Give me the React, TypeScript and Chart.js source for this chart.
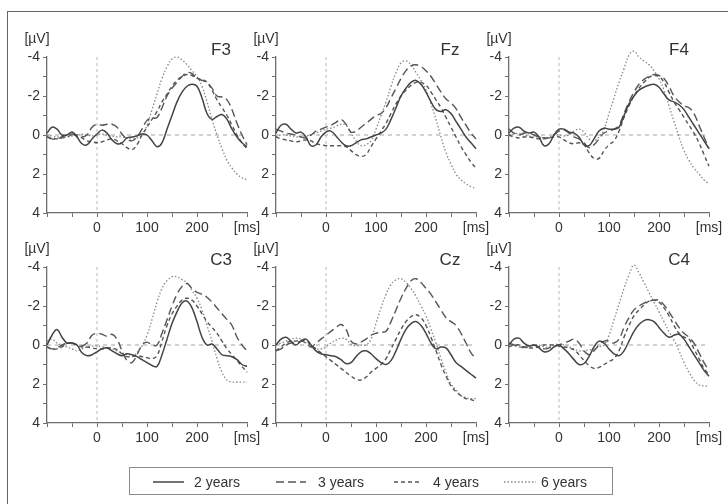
import React, { useEffect, useRef } from 'react';
import { Chart, registerables } from 'chart.js';

Chart.register(...registerables);

// ---------- DATA ----------
const TIMES_MS = [-100, -90, -80, -70, -60, -50, -40, -30, -20, -10, 0, 10, 20, 30, 40, 50, 60, 70, 80, 90, 100, 110, 120, 130, 140, 150, 160, 170, 180, 190, 200, 210, 220, 230, 240, 250, 260, 270, 280, 290, 300];
const X_LABELED_TICKS = [0, 100, 200];
const X_UNIT = '[ms]';
const Y_UNIT = '[µV]';
const Y_LABELED_TICKS = [-4, -2, 0, 2, 4];
const GROUPS = ['2 years', '3 years', '4 years', '6 years'];
const ELECTRODES = ['F3', 'Fz', 'F4', 'C3', 'Cz', 'C4'];

const F3_2y = [-0.1, -0.4, -0.3, 0.0, 0.0, -0.15, 0.1, 0.45, 0.5, 0.2, -0.05, -0.25, -0.1, 0.25, 0.45, 0.4, 0.15, 0.1, 0.05, -0.05, 0.0, 0.3, 0.6, 0.4, -0.3, -1.0, -1.7, -2.2, -2.5, -2.6, -2.5, -1.9, -1.1, -0.8, -0.95, -1.05, -0.8, -0.3, 0.1, 0.4, 0.6];
const F3_3y = [0.1, 0.2, 0.2, 0.1, 0.0, -0.05, 0.0, 0.1, 0.0, -0.4, -0.55, -0.5, -0.55, -0.55, -0.4, -0.05, 0.2, 0.3, 0.1, -0.3, -0.75, -0.85, -0.9, -1.4, -2.0, -2.4, -2.7, -3.0, -3.2, -3.15, -2.9, -2.8, -2.7, -2.4, -2.0, -1.95, -1.8, -1.3, -0.6, 0.0, 0.5];
const F3_4y = [0.1, 0.15, 0.2, 0.15, 0.1, 0.0, 0.05, 0.15, 0.3, 0.35, 0.4, 0.35, 0.25, 0.2, 0.3, 0.45, 0.65, 0.75, 0.5, 0.0, -0.4, -0.8, -1.2, -1.7, -2.1, -2.5, -2.8, -3.0, -3.1, -3.05, -2.9, -2.85, -2.7, -2.3, -1.8, -1.4, -1.0, -0.5, 0.0, 0.4, 0.7];
const F3_6y = [0.0, 0.05, 0.1, 0.1, 0.1, 0.05, 0.0, -0.05, 0.0, 0.05, 0.0, -0.05, 0.0, 0.05, 0.1, 0.1, 0.15, 0.2, 0.15, 0.0, -0.5, -1.3, -2.1, -2.9, -3.5, -3.9, -4.0, -3.85, -3.6, -3.3, -3.0, -2.5, -1.7, -0.8, 0.0, 0.7, 1.3, 1.7, 2.0, 2.2, 2.3];

const Fz_2y = [-0.1, -0.5, -0.55, -0.3, -0.1, -0.15, 0.1, 0.55, 0.5, 0.1, -0.15, -0.2, 0.05, 0.35, 0.55, 0.55, 0.4, 0.25, 0.2, 0.1, 0.0, -0.1, -0.3, -0.8, -1.4, -2.0, -2.4, -2.7, -2.8, -2.6, -2.2, -1.7, -1.3, -1.2, -1.3, -1.1, -0.7, -0.3, 0.1, 0.4, 0.7];
const Fz_3y = [-0.3, -0.2, -0.1, -0.05, 0.0, 0.1, 0.15, 0.0, -0.2, -0.3, -0.4, -0.5, -0.65, -0.8, -0.55, -0.15, -0.2, -0.4, -0.6, -0.8, -1.0, -1.1, -1.4, -1.9, -2.4, -2.9, -3.3, -3.55, -3.6, -3.5, -3.3, -3.0, -2.6, -2.2, -1.85, -1.65, -1.35, -0.9, -0.5, -0.1, 0.2];
const Fz_4y = [0.1, 0.2, 0.25, 0.3, 0.35, 0.3, 0.25, 0.3, 0.45, 0.5, 0.55, 0.55, 0.55, 0.55, 0.6, 0.8, 1.0, 1.1, 1.0, 0.6, 0.2, -0.2, -0.6, -1.1, -1.6, -2.0, -2.3, -2.55, -2.7, -2.7, -2.55, -2.2, -1.8, -1.4, -0.9, -0.4, 0.1, 0.6, 1.0, 1.4, 1.7];
const Fz_6y = [0.1, 0.0, 0.0, 0.05, 0.1, 0.1, 0.05, 0.0, -0.1, -0.2, -0.3, -0.35, -0.45, -0.55, -0.5, -0.1, 0.3, 0.55, 0.5, 0.3, -0.3, -1.0, -1.7, -2.5, -3.2, -3.7, -3.8, -3.6, -3.2, -2.8, -2.3, -1.6, -0.8, 0.1, 0.9, 1.5, 2.0, 2.3, 2.5, 2.65, 2.75];

const F4_2y = [-0.1, -0.35, -0.4, -0.2, -0.1, -0.15, 0.1, 0.55, 0.45, 0.0, -0.3, -0.3, -0.15, -0.1, 0.1, 0.5, 0.55, 0.2, -0.2, -0.35, -0.3, -0.3, -0.4, -1.0, -1.6, -2.0, -2.3, -2.45, -2.55, -2.6, -2.45, -2.1, -1.8, -1.7, -1.55, -1.3, -0.9, -0.5, -0.1, 0.3, 0.7];
const F4_3y = [-0.3, -0.1, 0.0, -0.1, -0.1, 0.0, 0.1, 0.15, 0.15, 0.0, -0.2, -0.25, -0.1, 0.1, 0.2, 0.4, 0.65, 0.5, 0.2, -0.1, -0.2, -0.3, -0.5, -1.1, -1.7, -2.2, -2.6, -2.85, -3.0, -3.1, -3.05, -2.9, -2.5, -2.0, -1.7, -1.5, -1.4, -1.1, -0.5, 0.1, 0.7];
const F4_4y = [0.0, 0.1, 0.15, 0.1, 0.1, 0.15, 0.2, 0.2, 0.15, 0.1, 0.1, 0.25, 0.4, 0.45, 0.4, 0.5, 0.9, 1.2, 1.2, 0.8, 0.5, 0.3, -0.2, -0.9, -1.5, -2.0, -2.4, -2.7, -2.95, -3.05, -3.0, -2.7, -2.2, -1.7, -1.3, -0.9, -0.5, -0.1, 0.4, 1.0, 1.6];
const F4_6y = [0.0, -0.05, -0.1, 0.0, 0.05, 0.1, 0.1, 0.15, 0.1, 0.0, 0.0, 0.05, 0.0, -0.2, -0.3, -0.15, 0.2, 0.3, 0.1, -0.3, -1.1, -1.9, -2.7, -3.4, -4.1, -4.3, -4.0, -3.8, -3.6, -3.3, -2.9, -2.3, -1.5, -0.7, 0.1, 0.8, 1.3, 1.7, 2.0, 2.3, 2.5];

const C3_2y = [0.0, -0.5, -0.8, -0.4, -0.1, -0.1, 0.0, 0.4, 0.55, 0.5, 0.35, 0.2, 0.15, 0.3, 0.45, 0.55, 0.45, 0.5, 0.6, 0.75, 0.9, 1.05, 1.1, 0.5, -0.3, -1.1, -1.7, -2.15, -2.25, -1.9, -1.2, -0.4, 0.0, -0.05, 0.2, 0.5, 0.55, 0.6, 0.75, 1.0, 1.1];
const C3_3y = [0.1, 0.2, 0.15, 0.0, -0.1, -0.1, 0.0, 0.05, -0.1, -0.5, -0.6, -0.55, -0.45, -0.55, -0.3, 0.3, 0.8, 0.9, 0.5, 0.0, -0.15, 0.0, 0.0, -0.6, -1.3, -2.0, -2.6, -3.0, -3.15, -2.9, -2.7, -2.6, -2.45, -2.2, -1.9, -1.6, -1.3, -1.0, -0.4, 0.0, 0.3];
const C3_4y = [0.1, 0.2, 0.2, 0.1, -0.1, -0.1, 0.0, 0.1, 0.1, 0.15, 0.2, 0.2, 0.15, 0.15, 0.25, 0.45, 0.6, 0.6, 0.55, 0.6, 0.65, 0.7, 0.55, -0.2, -1.0, -1.6, -2.0, -2.3, -2.4, -2.3, -2.0, -1.6, -1.2, -0.9, -0.6, -0.2, 0.2, 0.5, 0.8, 1.1, 1.4];
const C3_6y = [-0.2, -0.3, -0.1, 0.0, 0.1, 0.2, 0.3, 0.2, 0.1, 0.05, 0.05, 0.1, 0.15, 0.2, 0.3, 0.4, 0.5, 0.6, 0.4, 0.05, -0.5, -1.3, -2.2, -2.9, -3.3, -3.5, -3.5, -3.35, -3.2, -2.8, -2.4, -1.8, -1.0, -0.2, 0.7, 1.4, 1.8, 1.9, 1.9, 1.9, 1.9];

const Cz_2y = [0.0, -0.3, -0.4, -0.2, 0.0, -0.2, -0.3, 0.0, 0.3, 0.45, 0.5, 0.55, 0.6, 0.75, 0.95, 0.9, 0.6, 0.35, 0.3, 0.45, 0.7, 0.9, 1.0, 0.8, 0.3, -0.3, -0.8, -1.1, -1.2, -1.0, -0.6, -0.1, 0.2, 0.1, 0.15, 0.5, 0.9, 1.1, 1.3, 1.5, 1.7];
const Cz_3y = [0.3, 0.2, 0.0, -0.1, -0.1, -0.2, -0.1, 0.1, -0.1, -0.3, -0.5, -0.7, -0.9, -1.05, -0.8, -0.2, -0.05, -0.15, -0.3, -0.5, -0.6, -0.65, -0.7, -1.2, -1.8, -2.4, -2.9, -3.3, -3.4, -3.2, -2.9, -2.6, -2.2, -1.8, -1.4, -1.2, -1.0, -0.6, -0.1, 0.4, 0.7];
const Cz_4y = [0.3, 0.1, -0.1, -0.2, -0.2, -0.25, -0.2, 0.0, 0.2, 0.4, 0.6, 0.8, 1.0, 1.2, 1.4, 1.6, 1.75, 1.8, 1.65, 1.4, 1.2, 1.0, 0.7, 0.2, -0.3, -0.8, -1.2, -1.45, -1.55, -1.4, -1.0, -0.4, 0.3, 1.0, 1.6, 2.1, 2.4, 2.6, 2.75, 2.8, 2.9];
const Cz_6y = [0.0, -0.1, -0.2, -0.3, -0.35, -0.3, -0.1, 0.1, 0.2, 0.2, 0.1, -0.1, -0.25, -0.35, -0.3, -0.05, 0.05, 0.0, 0.0, -0.3, -1.1, -1.9, -2.6, -3.1, -3.35, -3.4, -3.2, -2.9, -2.5, -2.0, -1.5, -0.8, -0.1, 0.7, 1.4, 2.0, 2.3, 2.6, 2.7, 2.75, 2.75];

const C4_2y = [0.0, -0.3, -0.35, -0.1, 0.05, 0.0, 0.15, 0.35, 0.3, 0.1, 0.0, 0.2, 0.45, 0.75, 1.0, 0.95, 0.6, 0.1, -0.2, -0.1, 0.2, 0.45, 0.55, 0.3, -0.2, -0.7, -1.05, -1.25, -1.3, -1.2, -0.9, -0.6, -0.4, -0.5, -0.55, -0.3, 0.1, 0.5, 0.9, 1.3, 1.6];
const C4_3y = [-0.1, 0.0, 0.1, 0.1, 0.1, 0.0, 0.1, 0.2, 0.15, 0.05, 0.0, -0.1, -0.2, -0.3, -0.1, 0.3, 0.5, 0.3, 0.0, -0.2, -0.2, -0.1, -0.3, -0.9, -1.4, -1.8, -2.0, -2.15, -2.25, -2.3, -2.3, -2.05, -1.7, -1.3, -0.9, -0.6, -0.4, -0.1, 0.4, 0.9, 1.3];
const C4_4y = [0.1, 0.0, 0.0, 0.1, 0.15, 0.15, 0.1, 0.0, 0.0, 0.0, 0.05, 0.1, 0.15, 0.25, 0.5, 0.8, 1.05, 1.2, 1.15, 1.0, 0.85, 0.7, 0.3, -0.4, -1.0, -1.5, -1.8, -2.05, -2.25, -2.3, -2.2, -1.9, -1.5, -1.0, -0.6, -0.4, -0.3, 0.2, 0.7, 1.2, 1.5];
const C4_6y = [-0.1, 0.0, 0.1, 0.15, 0.1, 0.0, 0.0, 0.1, 0.1, 0.0, -0.05, 0.0, 0.1, 0.2, 0.3, 0.3, 0.25, 0.2, 0.1, 0.0, -0.5, -1.3, -2.1, -2.9, -3.6, -4.1, -3.7, -3.2, -2.7, -2.2, -1.7, -1.2, -0.7, -0.25, 0.3, 0.9, 1.4, 1.8, 2.05, 2.1, 2.1];

const SERIES_BY_ELECTRODE: Record<string, number[][]> = {
  F3: [F3_2y, F3_3y, F3_4y, F3_6y],
  Fz: [Fz_2y, Fz_3y, Fz_4y, Fz_6y],
  F4: [F4_2y, F4_3y, F4_4y, F4_6y],
  C3: [C3_2y, C3_3y, C3_4y, C3_6y],
  Cz: [Cz_2y, Cz_3y, Cz_4y, Cz_6y],
  C4: [C4_2y, C4_3y, C4_4y, C4_6y],
};

// ---------- STYLE / LAYOUT ----------
const FONT = '"Liberation Sans", Arial, Helvetica, sans-serif';
const TEXT = '#333';
const AXIS = '#6e6e6e';
const LINE_STYLES = [
  { color: '#444', dash: [] as number[], width: 1.5 },
  { color: '#555', dash: [8, 4], width: 1.4 },
  { color: '#555', dash: [4, 3], width: 1.4 },
  { color: '#888', dash: [1.5, 2], width: 1.3 },
];
const COL_LEFT = [47, 276, 509];
const ROW_TOP = [57, 267];
const TITLE_DX = [26, 26, 30];
const PLOT_W = 200;
const PLOT_H = 156;
const PAD_L = 4, PAD_T = 28, PAD_R = 18, PAD_B = 2;
const YAXIS_W = 44, XAXIS_H = 26;
const CANVAS_W = PAD_L + YAXIS_W + PLOT_W + PAD_R;
const CANVAS_H = PAD_T + PLOT_H + XAXIS_H + PAD_B;

const decorPlugin = {
  id: 'panelDecor',
  beforeDatasetsDraw(chart: any) {
    const { ctx, chartArea, scales } = chart;
    const x0 = scales.x.getPixelForValue(0);
    const y0 = scales.y.getPixelForValue(0);
    ctx.save();
    ctx.strokeStyle = '#b8b8b8';
    ctx.lineWidth = 1.3;
    ctx.setLineDash([4, 4]);
    ctx.beginPath();
    ctx.moveTo(chartArea.left, y0);
    ctx.lineTo(chartArea.right, y0);
    ctx.stroke();
    ctx.lineWidth = 1;
    ctx.setLineDash([3, 3]);
    ctx.beginPath();
    ctx.moveTo(x0, chartArea.top);
    ctx.lineTo(x0, chartArea.bottom);
    ctx.stroke();
    ctx.restore();
  },
  afterDraw(chart: any, _args: any, opts: any) {
    const { ctx, chartArea } = chart;
    ctx.save();
    ctx.fillStyle = TEXT;
    ctx.textAlign = 'center';
    ctx.textBaseline = 'middle';
    ctx.font = `14px ${FONT}`;
    ctx.fillText(Y_UNIT, chartArea.left - 10, chartArea.top - 18);
    ctx.font = `17px ${FONT}`;
    ctx.fillText(opts.title, chartArea.right - opts.titleDx, chartArea.top - 7);
    ctx.restore();
  },
};

function Panel({ name, col, row }: { name: string; col: number; row: number }) {
  const ref = useRef<HTMLCanvasElement>(null);
  useEffect(() => {
    const series = SERIES_BY_ELECTRODE[name];
    const chart = new Chart(ref.current as HTMLCanvasElement, {
      type: 'line',
      data: {
        datasets: series.map((vals, i) => ({
          label: GROUPS[i],
          data: TIMES_MS.map((t, k) => ({ x: t, y: vals[k] })),
          borderColor: LINE_STYLES[i].color,
          borderDash: LINE_STYLES[i].dash,
          borderWidth: LINE_STYLES[i].width,
          pointRadius: 0,
          tension: 0.4,
          fill: false,
          clip: false,
        })),
      },
      options: {
        animation: false,
        responsive: false,
        layout: { padding: { left: PAD_L, top: PAD_T, right: PAD_R, bottom: PAD_B } },
        plugins: {
          legend: { display: false },
          tooltip: { enabled: false },
          panelDecor: { title: name, titleDx: TITLE_DX[col] },
        } as any,
        scales: {
          x: {
            type: 'linear',
            min: -100,
            max: 300,
            afterFit: (s: any) => { s.height = XAXIS_H; },
            ticks: {
              stepSize: 50,
              autoSkip: false,
              maxRotation: 0,
              padding: 3,
              color: TEXT,
              font: { size: 14, family: FONT },
              callback: (v: any) => (X_LABELED_TICKS.includes(v) ? String(v) : v === 300 ? X_UNIT : ''),
            },
            grid: { drawOnChartArea: false, drawTicks: true, tickLength: 4, color: AXIS, lineWidth: 1 },
            border: { display: true, color: AXIS, width: 1.3 },
          },
          y: {
            type: 'linear',
            reverse: true,
            min: -4,
            max: 4,
            afterFit: (s: any) => { s.width = YAXIS_W; },
            ticks: {
              stepSize: 1,
              autoSkip: false,
              padding: 3,
              color: TEXT,
              font: { size: 14, family: FONT },
              callback: (v: any) => (Y_LABELED_TICKS.includes(v) ? String(v) : ''),
            },
            grid: { drawOnChartArea: false, drawTicks: true, tickLength: 4, color: AXIS, lineWidth: 1 },
            border: { display: true, color: AXIS, width: 1.3 },
          },
        },
      } as any,
      plugins: [decorPlugin as any],
    });
    return () => chart.destroy();
  }, [name, col]);
  const left = COL_LEFT[col] - YAXIS_W - PAD_L;
  const top = ROW_TOP[row] - PAD_T;
  return (
    <canvas
      ref={ref}
      width={CANVAS_W}
      height={CANVAS_H}
      style={{ position: 'absolute', left, top, width: CANVAS_W, height: CANVAS_H }}
    />
  );
}

const LEGEND_ITEMS = [
  { lineX: 152, lineW: 31, textX: 193 },
  { lineX: 275, lineW: 30, textX: 317 },
  { lineX: 393, lineW: 27, textX: 432 },
  { lineX: 503, lineW: 32, textX: 540 },
];
const LEGEND_BOX = { left: 129, top: 467, width: 484, height: 28 };

function Legend() {
  return (
    <div
      style={{
        position: 'absolute',
        left: LEGEND_BOX.left,
        top: LEGEND_BOX.top,
        width: LEGEND_BOX.width,
        height: LEGEND_BOX.height,
        border: '1.5px solid #8a8a8a',
        boxSizing: 'border-box',
      }}
    >
      {GROUPS.map((g, i) => {
        const it = LEGEND_ITEMS[i];
        const st = LINE_STYLES[i];
        return (
          <React.Fragment key={g}>
            <svg
              width={it.lineW}
              height={6}
              style={{ position: 'absolute', left: it.lineX - LEGEND_BOX.left, top: 481 - 3 - LEGEND_BOX.top }}
            >
              <line
                x1={0}
                y1={3}
                x2={it.lineW}
                y2={3}
                stroke={st.color}
                strokeWidth={st.width}
                strokeDasharray={st.dash.length ? st.dash.join(' ') : undefined}
              />
            </svg>
            <span
              style={{
                position: 'absolute',
                left: it.textX - LEGEND_BOX.left,
                top: 481 - 9 - LEGEND_BOX.top,
                height: 18,
                lineHeight: '18px',
                fontFamily: FONT,
                fontSize: 14,
                color: TEXT,
                whiteSpace: 'nowrap',
              }}
            >
              {g}
            </span>
          </React.Fragment>
        );
      })}
    </div>
  );
}

export default function App() {
  return (
    <div
      style={{
        position: 'fixed',
        left: 0,
        top: 0,
        width: 728,
        height: 504,
        background: '#fff',
        overflow: 'hidden',
      }}
    >
      <div
        style={{
          position: 'absolute',
          left: 7,
          top: 11,
          width: 900,
          height: 700,
          borderLeft: '1.5px solid #666',
          borderTop: '1.5px solid #666',
        }}
      />
      {ELECTRODES.map((e, i) => (
        <Panel key={e} name={e} col={i % 3} row={Math.floor(i / 3)} />
      ))}
      <Legend />
    </div>
  );
}
